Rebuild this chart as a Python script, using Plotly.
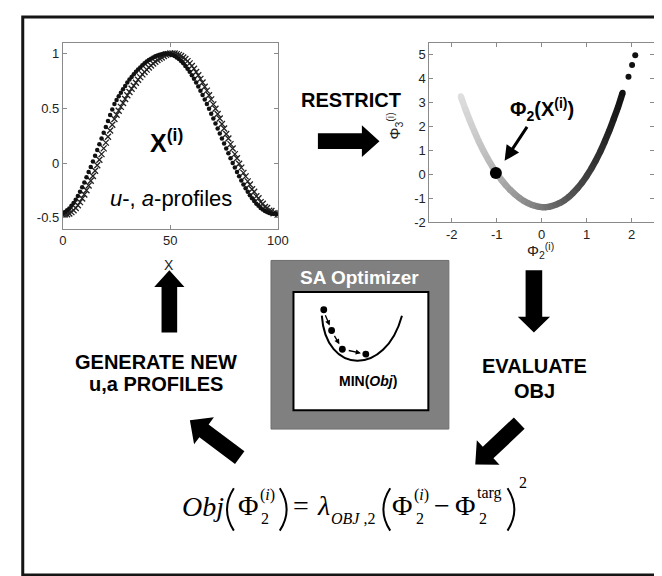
import math
import plotly.graph_objects as go

# ---------------- data ----------------
# left panel: u-profile (dots) and a-profile (crosses) of X^(i) vs x
profile_x_dots = [0, 2, 4, 6, 8, 10, 12, 14, 16, 18, 20, 22, 24, 26, 28, 30, 32, 34, 36, 38, 40,
                  42, 44, 46, 48, 50, 52, 54, 56, 58, 60, 62, 64, 66, 68, 70, 72, 74, 76, 78, 80,
                  82, 84, 86, 88, 90, 92, 94, 96, 98, 100]
profile_u_dots = [-0.454, -0.431, -0.390, -0.334, -0.262, -0.177, -0.082, 0.015, 0.120, 0.224,
                  0.330, 0.438, 0.539, 0.609, 0.673, 0.735, 0.786, 0.833, 0.873, 0.910,
                  0.940, 0.964, 0.982, 0.994, 1.000, 0.994, 0.977, 0.949, 0.910, 0.861,
                  0.802, 0.735, 0.661, 0.581, 0.496, 0.407, 0.316, 0.224, 0.133, 0.044,
                  -0.041, -0.121, -0.195, -0.262, -0.321, -0.370, -0.409, -0.437, -0.454,
                  -0.462, -0.466]
profile_x_dots_odd = [1, 3, 5, 7, 9, 11, 13, 15, 17, 19, 21, 23, 25, 27, 29, 31, 33, 35, 37, 39,
                      41, 43, 45, 47, 49, 51, 53, 55, 57, 59, 61, 63, 65, 67, 69, 71, 73, 75, 77,
                      79, 81, 83, 85, 87, 89, 91, 93, 95, 97, 99]
profile_u_dots_odd = [-0.445, -0.413, -0.364, -0.300, -0.221, -0.130, -0.035, 0.067, 0.172, 0.277,
                      0.384, 0.489, 0.575, 0.641, 0.704, 0.762, 0.810, 0.854, 0.892, 0.926,
                      0.953, 0.974, 0.988, 0.999, 0.999, 0.987, 0.964, 0.931, 0.886, 0.833,
                      0.770, 0.699, 0.622, 0.539, 0.451, 0.362, 0.270, 0.178, 0.089, 0.001,
                      -0.082, -0.159, -0.230, -0.293, -0.346, -0.390, -0.424, -0.447, -0.459,
                      -0.463]
profile_x_cross = [1, 3, 5, 7, 9, 11, 13, 15, 17, 19, 21, 23, 25, 27, 29, 31, 33, 35, 37, 39,
                   41, 43, 45, 47, 49, 51, 53, 55, 57, 59, 61, 63, 65, 67, 69, 71, 73, 75, 77, 79,
                   81, 83, 85, 87, 89, 91, 93, 95, 97, 99]
profile_a_cross = [-0.468, -0.459, -0.430, -0.385, -0.323, -0.247, -0.161, -0.069, 0.031, 0.134,
                   0.241, 0.350, 0.441, 0.513, 0.584, 0.649, 0.706, 0.760, 0.809, 0.853,
                   0.891, 0.925, 0.953, 0.977, 0.994, 1.000, 0.994, 0.977, 0.949, 0.910,
                   0.861, 0.802, 0.735, 0.661, 0.581, 0.496, 0.407, 0.316, 0.224, 0.133,
                   0.044, -0.041, -0.121, -0.195, -0.262, -0.321, -0.370, -0.409, -0.437, -0.454]
profile_x_cross_even = [0, 2, 4, 6, 8, 10, 12, 14, 16, 18, 20, 22, 24, 26, 28, 30, 32, 34, 36, 38,
                        40, 42, 44, 46, 48, 50, 52, 54, 56, 58, 60, 62, 64, 66, 68, 70, 72, 74,
                        76, 78, 80, 82, 84, 86, 88, 90, 92, 94, 96, 98, 100]
profile_a_cross_even = [-0.469, -0.467, -0.447, -0.410, -0.356, -0.286, -0.204, -0.117, -0.019,
                        0.082, 0.187, 0.297, 0.403, 0.478, 0.549, 0.619, 0.678, 0.733, 0.784,
                        0.831, 0.872, 0.909, 0.940, 0.964, 0.987, 0.999, 0.999, 0.987, 0.964,
                        0.930, 0.886, 0.831, 0.768, 0.697, 0.619, 0.536, 0.448, 0.357, 0.265,
                        0.173, 0.082, -0.006, -0.089, -0.167, -0.238, -0.302, -0.356, -0.400,
                        -0.434, -0.457, -0.469]
left_xticks = [0, 50, 100]
left_xticklabels = ["0", "50", "100"]
left_yticks = [-0.5, 0, 0.5, 1]
left_yticklabels = ["-0.5", "0", "0.5", "1"]

# right panel: restricted coordinates Phi2, Phi3
phi2 = [-1.8, -1.7, -1.6, -1.5, -1.4, -1.3, -1.2, -1.1, -1.0, -0.9, -0.8, -0.7, -0.6, -0.5,
        -0.4, -0.3, -0.2, -0.1, 0.0, 0.1, 0.2, 0.3, 0.4, 0.5, 0.6, 0.7, 0.8, 0.9, 1.0,
        1.1, 1.2, 1.3, 1.4, 1.5, 1.6, 1.7, 1.8]
phi3 = [3.25, 2.72, 2.24, 1.79, 1.37, 0.99, 0.64, 0.32, 0.03, -0.23, -0.46, -0.66, -0.84, -0.99,
        -1.12, -1.22, -1.30, -1.35, -1.38, -1.38, -1.35, -1.29, -1.21, -1.10, -0.96, -0.78,
        -0.58, -0.35, -0.08, 0.22, 0.56, 0.93, 1.35, 1.80, 2.30, 2.81, 3.40]
phi2_outliers = [1.93, 2.01, 2.08]
phi3_outliers = [4.07, 4.56, 4.97]
phi2_current = [-1.02]
phi3_current = [0.05]
right_xticks = [-2, -1, 0, 1, 2]
right_xticklabels = ["-2", "-1", "0", "1", "2"]
right_yticks = [-2, -1, 0, 1, 2, 3, 4, 5]
right_yticklabels = ["-2", "-1", "0", "1", "2", "3", "4", "5"]

# ---------------- styling helpers ----------------
SANS = "Liberation Sans, Arial, sans-serif"
SERIF = "Liberation Serif, Times New Roman, serif"
W, H = 662, 576


def px_x(v):
    return v / W


def px_y(v):
    return 1 - v / H


def gray_for(v, lo=-1.8, hi=1.8):
    t = (v - lo) / (hi - lo)
    t = min(max(t, 0), 1)
    g = int(round(222 - t * 205))
    return f"rgb({g},{g},{g})"


def arrow_path(x0, y0, x1, y1, bw, hw, hl):
    dx, dy = x1 - x0, y1 - y0
    L = math.hypot(dx, dy)
    ux, uy = dx / L, dy / L
    px, py = -uy, ux
    bx, by = x1 - ux * hl, y1 - uy * hl
    pts = [
        (x0 + px * bw / 2, y0 + py * bw / 2),
        (bx + px * bw / 2, by + py * bw / 2),
        (bx + px * hw / 2, by + py * hw / 2),
        (x1, y1),
        (bx - px * hw / 2, by - py * hw / 2),
        (bx - px * bw / 2, by - py * bw / 2),
        (x0 - px * bw / 2, y0 - py * bw / 2),
    ]
    return "M " + " L ".join(f"{a:.1f},{b:.1f}" for a, b in pts) + " Z"


fig = go.Figure()

# ---------------- left panel ----------------
fig.add_trace(go.Scatter(
    x=profile_x_cross + profile_x_cross_even, y=profile_a_cross + profile_a_cross_even,
    mode="markers", xaxis="x", yaxis="y",
    marker=dict(symbol="x-thin", size=6, color="#222", line=dict(width=1.3, color="#222")),
    showlegend=False, hoverinfo="skip"))
fig.add_trace(go.Scatter(
    x=profile_x_dots + profile_x_dots_odd, y=profile_u_dots + profile_u_dots_odd,
    mode="markers", xaxis="x", yaxis="y",
    marker=dict(symbol="circle", size=4.5, color="#111"),
    showlegend=False, hoverinfo="skip"))

# ---------------- right panel ----------------
for i in range(len(phi2) - 1):
    fig.add_trace(go.Scatter(
        x=[phi2[i], phi2[i + 1]], y=[phi3[i], phi3[i + 1]], mode="lines",
        xaxis="x2", yaxis="y2",
        line=dict(color=gray_for((phi2[i] + phi2[i + 1]) / 2), width=6.5),
        showlegend=False, hoverinfo="skip"))
fig.add_trace(go.Scatter(
    x=phi2, y=phi3, mode="markers", xaxis="x2", yaxis="y2",
    marker=dict(size=6, color=[gray_for(v) for v in phi2], line=dict(width=0)),
    showlegend=False, hoverinfo="skip"))
fig.add_trace(go.Scatter(
    x=phi2_outliers, y=phi3_outliers, mode="markers", xaxis="x2", yaxis="y2",
    marker=dict(size=6, color="#111"), showlegend=False, hoverinfo="skip"))
fig.add_trace(go.Scatter(
    x=phi2_current, y=phi3_current, mode="markers", xaxis="x2", yaxis="y2",
    marker=dict(size=12, color="#000"), showlegend=False, hoverinfo="skip"))

# overlay pixel axis (for diagram decoration)
fig.add_trace(go.Scatter(x=[None], y=[None], xaxis="x3", yaxis="y3",
                         showlegend=False, hoverinfo="skip"))

axis_common = dict(showline=True, mirror="ticks", linecolor="#8a8a8a", linewidth=1,
                   ticks="inside", ticklen=4, tickcolor="#8a8a8a", showgrid=False,
                   zeroline=False, tickfont=dict(family=SANS, size=13, color="#222"))

fig.update_layout(
    width=W, height=H, margin=dict(l=0, r=0, t=0, b=0),
    paper_bgcolor="white", plot_bgcolor="rgba(0,0,0,0)", showlegend=False,
    xaxis=dict(domain=[px_x(52), px_x(272)], anchor="y", range=[0, 100],
               tickvals=left_xticks, ticktext=left_xticklabels, **axis_common),
    yaxis=dict(domain=[px_y(224), px_y(35)], anchor="x", range=[-0.6, 1.1],
               tickvals=left_yticks, ticktext=left_yticklabels, **axis_common),
    xaxis2=dict(domain=[px_x(427), px_x(657)], anchor="y2", range=[-2.5, 2.5],
                tickvals=right_xticks, ticktext=right_xticklabels, **axis_common),
    yaxis2=dict(domain=[px_y(217), px_y(35)], anchor="x2", range=[-2, 5.5],
                tickvals=right_yticks, ticktext=right_yticklabels, **axis_common),
    xaxis3=dict(domain=[0, 1], anchor="y3", range=[0, W], visible=False, fixedrange=True),
    yaxis3=dict(domain=[0, 1], anchor="x3", range=[H, 0], visible=False, fixedrange=True),
)

shapes = []
# outer frame
shapes.append(dict(type="rect", xref="x3", yref="y3", x0=11, y0=9, x1=700, y1=575,
                   line=dict(color="#151515", width=3), fillcolor="rgba(0,0,0,0)"))
# big block arrows
for (x0, y0, x1, y1, bw, hw, hl) in [
    (313, 135, 376, 135, 16, 32, 18),   # restrict (right)
    (534, 266, 534, 329, 17, 33, 16),   # down to evaluate
    (519, 421, 474, 463, 16, 34, 18),   # down-left
    (233, 456, 182, 418, 16, 34, 18),   # up-left
    (161, 329, 161, 266, 16, 31, 17),   # up to profiles
]:
    shapes.append(dict(type="path", xref="x3", yref="y3",
                       path=arrow_path(x0, y0, x1, y1, bw, hw, hl),
                       fillcolor="#000", line=dict(width=0)))
# SA optimizer box
shapes.append(dict(type="rect", xref="x3", yref="y3", x0=265, y0=256, x1=447, y1=427,
                   fillcolor="#808080", line=dict(color="#6e6e6e", width=1)))
shapes.append(dict(type="rect", xref="x3", yref="y3", x0=288, y0=288, x1=426, y1=408,
                   fillcolor="white", line=dict(color="#000", width=2)))
# U-shaped objective curve
shapes.append(dict(type="path", xref="x3", yref="y3",
                   path="M 317,312 C 321,372 382,374 399,312",
                   line=dict(color="#000", width=2)))
for (cx, cy) in [(319, 306), (327, 327), (338, 346), (362, 351)]:
    shapes.append(dict(type="circle", xref="x3", yref="y3", x0=cx - 3.5, y0=cy - 3.5,
                       x1=cx + 3.5, y1=cy + 3.5, fillcolor="#000", line=dict(width=0)))
# large parentheses of the formula
for (xa, xc) in [(227, 213), (274, 288), (387, 373), (507, 521)]:
    shapes.append(dict(type="path", xref="x3", yref="y3",
                       path=f"M {xa},487 Q {xc},508.5 {xa},530",
                       line=dict(color="#000", width=2)))
fig.update_layout(shapes=shapes)

ann = []


def txt(x, y, s, size, family=SANS, color="#000", **kw):
    d = dict(xref="x3", yref="y3", x=x, y=y, text=s, showarrow=False,
             font=dict(family=family, size=size, color=color),
             xanchor="center", yanchor="middle")
    d.update(kw)
    ann.append(d)


# labels
txt(347, 93, "<b>RESTRICT</b>", 20)
txt(535, 363, "<b>EVALUATE</b>", 20)
txt(535, 388, "<b>OBJ</b>", 20)
txt(147, 359, "<b>GENERATE NEW</b>", 20)
txt(147, 381, "<b>u,a PROFILES</b>", 20)
txt(356, 273, "<b>SA Optimizer</b>", 19, color="white")
txt(364, 378, "<b>MIN(<i>Obj</i>)</b>", 14)
# left panel inner text
txt(158, 135, "<b>X<sup>(i)</sup></b>", 25)
txt(163, 193, "<i>u</i>-, <i>a</i>-profiles", 22)
txt(161, 261, "X", 14, color="#222")
# right panel labels
txt(542, 103, "<b>Φ<sub>2</sub>(X<sup>(i)</sup>)</b>", 20)
txt(541, 246, "Φ<sub>2</sub><sup>(i)</sup>", 15, color="#222")
txt(391, 120, "Φ<sub>3</sub><sup>(i)</sup>", 15, color="#222", textangle=-90)
# arrow to the current point
ann.append(dict(xref="x3", yref="y3", axref="x3", ayref="y3", x=504, y=155, ax=528, ay=119,
                text="", showarrow=True, arrowhead=2, arrowsize=1.0, arrowwidth=3,
                arrowcolor="#000"))
# small arrows in SA box
for (x0, y0, x1, y1) in [(320, 310, 325, 322), (329, 331, 335, 341), (343, 347, 357, 350)]:
    ann.append(dict(xref="x3", yref="y3", axref="x3", ayref="y3", x=x1, y=y1, ax=x0, ay=y0,
                    text="", showarrow=True, arrowhead=2, arrowsize=0.8, arrowwidth=1.3,
                    arrowcolor="#000"))
# formula pieces
txt(195, 506, "<i>Obj</i>", 28, SERIF)
txt(241, 505, "Φ", 28, SERIF)
txt(261, 494, "(<i>i</i>)", 16, SERIF)
txt(259, 518, "2", 16, SERIF)
txt(296, 505, "=", 28, SERIF)
txt(319, 504, "<i>λ</i>", 28, SERIF)
txt(349, 518, "<i>OBJ</i> ,2", 16, SERIF)
txt(399, 505, "Φ", 28, SERIF)
txt(419, 494, "(<i>i</i>)", 16, SERIF)
txt(417, 518, "2", 16, SERIF)
txt(440, 505, "−", 28, SERIF)
txt(464, 505, "Φ", 28, SERIF)
txt(489, 492, "targ", 16, SERIF)
txt(482, 518, "2", 16, SERIF)
txt(523, 481, "2", 16, SERIF)

fig.update_layout(annotations=ann)

fig.write_html("out.html")
